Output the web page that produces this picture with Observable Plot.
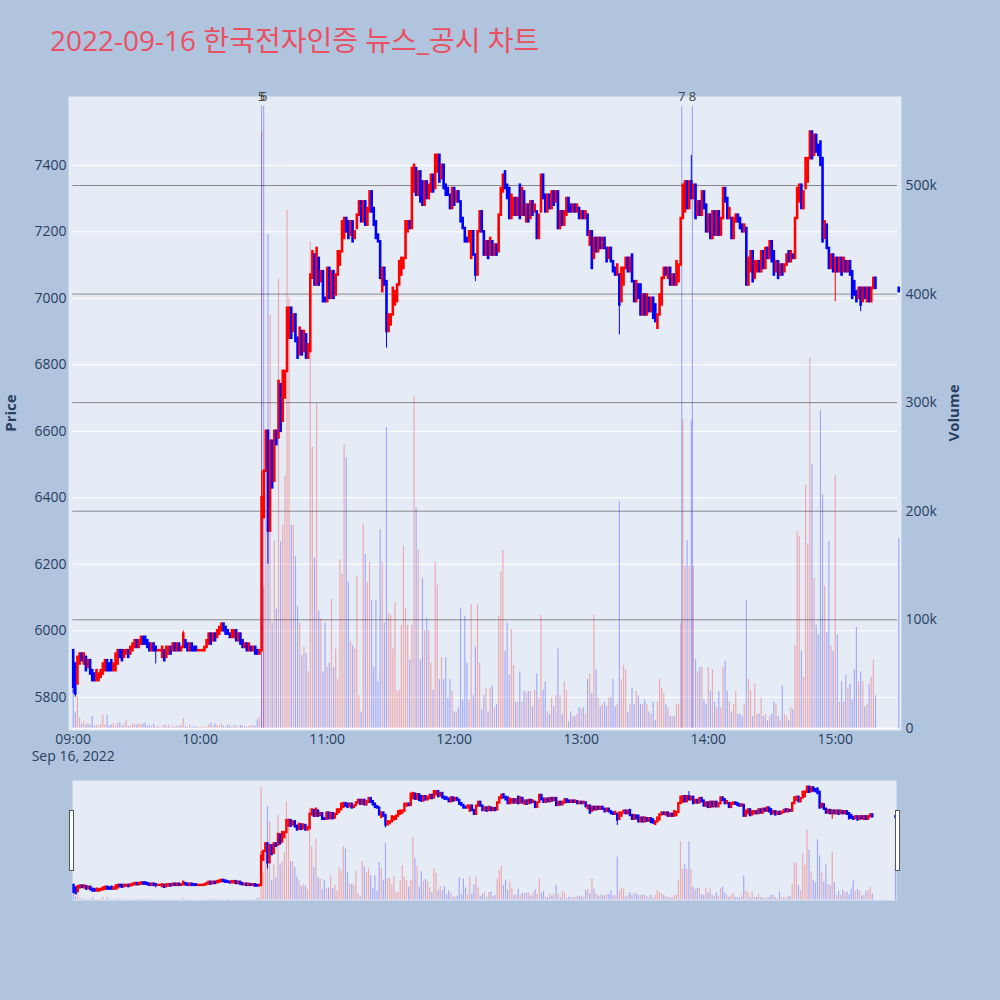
<!DOCTYPE html>
<html><head><meta charset="utf-8">
<script src="https://cdn.jsdelivr.net/npm/d3@7"></script>
<script src="https://cdn.jsdelivr.net/npm/@observablehq/plot@0.6"></script>
<style>
body{margin:0;background:#B0C4DE;}
#root{position:relative;width:1000px;height:1000px;background:#B0C4DE;overflow:hidden;font-family:'Open Sans','Noto Sans CJK KR',sans-serif;}
.layer{position:absolute;left:0;}
#title{position:absolute;left:50px;top:26px;font-size:28px;line-height:28px;color:rgb(234,80,98);white-space:nowrap;}
.axtitle{position:absolute;font-size:15px;font-weight:bold;color:#2a3f5f;transform:translate(-50%,-50%) rotate(-90deg);white-space:nowrap;}
.handle{position:absolute;width:3px;height:59px;background:#fff;border:1px solid #555;}
</style></head><body><div id="root">
<div id="title">2022-09-16 한국전자인증 뉴스_공시 차트</div>
<div class="axtitle" style="left:10px;top:413px;">Price</div>
<div class="axtitle" style="left:953px;top:413px;">Volume</div>
</div>
<script>
// ---------------- data ----------------
const chartDate = [2022, 8, 16];
const sessionStart = "09:00";
// 1-minute opens, 09:00 .. 15:19
const opens = [
5940,5900,5840,5900,5930,5900,5920,5890,5910,5880,
5870,5850,5850,5860,5870,5880,5910,5900,5910,5880,
5880,5900,5940,5940,5920,5930,5940,5930,5940,5950,
5970,5950,5960,5980,5980,5970,5960,5940,5960,5950,
5940,5940,5920,5940,5920,5930,5950,5940,5960,5940,
5960,5940,5950,5970,5960,5940,5960,5950,5950,5940,
5940,5940,5940,5950,5960,5990,5970,5990,5980,5990,
6000,6020,6010,6000,5990,5980,5980,6000,5970,5990,
5970,5950,5960,5940,5950,5940,5950,5940,5930,5940,
6340,6480,6600,6300,6570,6450,6600,6580,6740,6630,
6700,6780,6880,6970,6900,6950,6880,6830,6900,6840,
6890,6820,6840,7060,7130,7040,7120,7050,7080,7000,
6990,7090,7000,7080,7010,7070,7100,7140,7180,7240,
7230,7190,7230,7180,7210,7250,7290,7230,7290,7220,
7260,7320,7270,7230,7190,7170,7020,7090,7050,6900,
6920,6950,6980,6990,7040,7070,7090,7120,7200,7230,
7210,7320,7390,7310,7380,7350,7280,7350,7300,7320,
7370,7330,7380,7430,7360,7400,7340,7330,7310,7270,
7330,7290,7320,7290,7240,7210,7180,7170,7120,7200,
7130,7070,7200,7260,7200,7130,7170,7130,7170,7130,
7160,7140,7250,7320,7380,7340,7330,7240,7250,7300,
7250,7340,7250,7320,7230,7280,7240,7290,7260,7260,
7180,7260,7370,7310,7260,7310,7270,7320,7290,7320,
7210,7260,7220,7250,7300,7280,7260,7280,7260,7270,
7240,7260,7240,7250,7160,7200,7120,7180,7140,7180,
7150,7180,7150,7120,7150,7110,7090,7070,7070,6990,
7040,7090,7120,7080,7130,7050,6990,7040,7040,6950,
7010,6950,7000,6960,7000,6980,6910,6950,6980,7060,
7090,7060,7090,7040,7070,7040,7050,7100,7240,7260,
7350,7270,7350,7300,7340,7250,7290,7250,7320,7280,
7200,7250,7180,7260,7190,7260,7190,7240,7330,7300,
7240,7240,7180,7230,7250,7240,7220,7200,7210,7040,
7080,7140,7060,7080,7110,7080,7140,7090,7150,7120,
7170,7140,7080,7110,7070,7100,7080,7100,7140,7110,
7130,7120,7240,7290,7340,7270,7330,7350,7420,7500,
7430,7490,7460,7470,7420,7180,7220,7150,7090,7130,
7080,7120,7080,7120,7080,7110,7080,7110,7080,7050,
7020,7000,7030,6990,7030,6990,7030,6990,7030,7060
];
// 1-minute closes, 09:00 .. 15:19
const closes = [
5830,5810,5920,5930,5910,5930,5880,5910,5870,5850,
5850,5880,5870,5880,5900,5910,5880,5880,5880,5900,
5930,5940,5920,5910,5940,5940,5920,5950,5960,5970,
5950,5970,5980,5960,5960,5950,5940,5960,5940,5940,
5940,5940,5950,5910,5950,5950,5930,5960,5940,5960,
5940,5950,5990,5950,5940,5960,5940,5940,5940,5940,
5940,5940,5950,5970,5990,5960,5990,5970,6000,6010,
6020,6000,5990,5990,5980,6000,6000,5970,5990,5960,
5950,5960,5940,5960,5940,5950,5930,5930,5940,6400,
6480,6600,6300,6570,6430,6600,6560,6750,6600,6780,
6780,6970,6970,6880,6950,6870,6820,6910,6830,6900,
6820,6860,7070,7140,7040,7150,7040,7080,6990,6990,
7090,7000,7080,7000,7070,7140,7140,7230,7240,7200,
7180,7230,7170,7200,7250,7290,7230,7290,7220,7270,
7320,7260,7220,7180,7170,7060,7090,7040,6900,6950,
6950,7030,7020,7040,7110,7120,7120,7230,7230,7210,
7390,7400,7310,7380,7290,7280,7350,7300,7340,7370,
7320,7430,7430,7350,7400,7330,7310,7310,7270,7330,
7280,7320,7290,7230,7210,7170,7170,7200,7200,7130,
7070,7200,7260,7200,7130,7170,7120,7180,7130,7160,
7130,7250,7330,7370,7330,7300,7240,7310,7300,7250,
7300,7240,7330,7250,7280,7230,7290,7250,7280,7180,
7250,7370,7300,7260,7310,7270,7320,7280,7320,7210,
7260,7220,7260,7300,7260,7260,7280,7260,7280,7240,
7260,7240,7260,7190,7200,7090,7180,7140,7180,7150,
7180,7150,7110,7150,7110,7080,7070,7100,6980,7090,
7090,7120,7080,7120,7050,6990,7050,7000,6950,7010,
6950,7010,6960,7000,6940,6930,6950,7010,7060,7090,
7070,7090,7040,7070,7040,7110,7100,7240,7340,7350,
7270,7350,7300,7340,7240,7290,7250,7320,7270,7200,
7250,7180,7260,7190,7260,7190,7240,7330,7290,7240,
7270,7180,7240,7250,7230,7210,7200,7220,7040,7120,
7140,7050,7110,7110,7080,7140,7090,7150,7120,7170,
7110,7070,7110,7060,7100,7070,7100,7130,7110,7140,
7120,7240,7330,7340,7270,7320,7420,7420,7500,7420,
7490,7440,7430,7400,7170,7230,7150,7090,7130,7080,
7120,7080,7120,7070,7120,7080,7110,7070,7000,7010,
6990,7030,6980,7030,7000,7030,6990,7030,7060,7030
];
// 1-minute volumes in thousands, 09:00 .. 15:19
const volumesK = [
35,15,29,10,4,6,3,5,3,11,
2,3,2,4,12,3,12,2,3,4,
2,5,5,2,3,7,2,2,4,4,
3,4,3,4,5,2,3,2,4,1,
2,1,1,3,2,3,1,2,1,2,
2,3,9,2,1,3,1,2,1,1,
1,1,1,1,3,5,2,4,3,2,
4,2,1,3,2,1,3,2,1,3,
2,2,1,2,2,3,2,8,10,549,
130,250,455,381,97,172,110,414,172,187,
233,477,397,187,187,158,112,97,67,75,
69,52,448,259,157,299,108,101,52,97,
56,60,119,56,73,45,155,142,261,249,
134,80,76,73,140,30,15,188,160,134,
153,118,56,118,43,183,153,97,277,106,
104,73,116,34,35,95,168,110,95,63,
95,306,203,164,63,138,90,101,90,60,
35,153,132,45,65,45,65,28,45,34,
15,15,19,110,26,103,60,26,114,30,
75,114,60,17,30,37,15,37,39,19,
22,103,144,164,71,97,49,91,58,24,
24,52,24,34,32,34,34,20,35,50,
28,104,35,43,15,13,28,20,30,73,
30,13,43,35,6,15,11,11,13,19,
17,19,13,45,50,32,104,54,28,20,
22,24,20,28,28,45,20,22,209,45,
58,54,15,22,37,22,34,30,22,22,
26,22,15,13,24,7,24,45,37,32,
22,19,11,11,11,22,22,97,284,149,
173,149,284,149,63,52,56,56,26,22,
56,34,54,24,19,34,19,56,62,34,
24,15,22,34,13,13,11,22,118,45,
35,11,41,13,13,28,11,13,7,11,
13,24,22,11,7,39,13,11,7,19,
17,76,181,177,71,47,224,170,341,243,
138,95,86,293,215,131,88,172,76,71,
233,86,24,43,24,49,37,41,26,54,
93,43,52,43,20,22,41,47,63,30
];
// wick extremes beyond the bodies (minute index from 09:00)
const wickMinute = [0, 1, 39, 52, 89, 92, 148, 190, 258, 292, 360, 372];
const wickLow    = [5810, 5800, 5900, null, null, 6200, 6850, 7050, 6890, null, 6990, 6960];
const wickHigh   = [null, null, null, 6000, 6480, null, null, null, null, 7430, null, null];
// closing auction
const auctionTime = "15:30";
const auctionOpen = 7030;
const auctionPrice = 7020;
const auctionVolumeK = 175;
// news / disclosure markers
const newsLabels = ["5", "6", "7", "8"];
const newsTimes = ["10:29", "10:30", "13:47:30", "13:52:30"];
const newsLineTopK = 573;
// axes
const priceTicks = [5800, 6000, 6200, 6400, 6600, 6800, 7000, 7200, 7400];
const volumeTicksK = [0, 100, 200, 300, 400, 500];
const hourTicks = ["09:00", "10:00", "11:00", "12:00", "13:00", "14:00", "15:00"];
const dateLabel = "Sep 16, 2022";
const priceDomain = [5700, 7607];
const volumeDomainK = [-2, 582];
const mainTimeDomain = ["08:57:47", "15:31:18"];
const sliderTimeDomain = ["08:59:30", "15:30:30"];
const gridTimeSpan = ["08:59:50", "15:29:30"];

// ---------------- build ----------------
const T = s => { const [h, m, sec = 0] = s.split(":").map(Number); return new Date(Date.UTC(chartDate[0], chartDate[1], chartDate[2], h, m, sec)); };
const t0 = T(sessionStart);
const candles = closes.map((c, i) => {
  const open = opens[i];
  return {time: new Date(+t0 + i * 60000), open, close: c, low: Math.min(open, c), high: Math.max(open, c), volume: volumesK[i]};
});
wickMinute.forEach((m, k) => {
  if (wickLow[k] != null) candles[m].low = Math.min(candles[m].low, wickLow[k]);
  if (wickHigh[k] != null) candles[m].high = Math.max(candles[m].high, wickHigh[k]);
});
candles.push({time: T(auctionTime), open: auctionOpen, close: auctionPrice,
  low: Math.min(auctionOpen, auctionPrice), high: Math.max(auctionOpen, auctionPrice), volume: auctionVolumeK});
candles.forEach(d => d.col = d.close >= d.open ? "#ff0000" : "#0000ff");

const fmt = d3.utcFormat("%H:%M");
const font = "'Open Sans','Noto Sans CJK KR',sans-serif";
const style = {background: "transparent", fontFamily: font, fontSize: "14px", color: "#2a3f5f", overflow: "visible"};
const mainDims = {width: 1000, height: 775, marginLeft: 68, marginRight: 99, marginTop: 96, marginBottom: 45};
const sliderDims = {width: 1000, height: 140, marginLeft: 72, marginRight: 104, marginTop: 10, marginBottom: 10};
const xMain = {type: "utc", domain: mainTimeDomain.map(T)};
const xSlider = {type: "utc", domain: sliderTimeDomain.map(T), axis: null};
const gx1 = () => T(gridTimeSpan[0]), gx2 = () => T(gridTimeSpan[1]);

const root = document.getElementById("root");
function place(svg, top) { svg.classList.add("layer"); svg.style.top = top + "px"; root.appendChild(svg); }

// Layer A: background, price grid, axes
place(Plot.plot({
  ...mainDims, style, x: xMain, y: {domain: priceDomain},
  marks: [
    Plot.frame({fill: "#E5ECF6", stroke: "none"}),
    Plot.ruleY(priceTicks, {y: d => d, x1: gx1, x2: gx2, stroke: "#ffffff", strokeWidth: 1}),
    Plot.axisY({ticks: priceTicks, tickSize: 0, tickPadding: 2, label: null, tickFormat: d => String(d)}),
    Plot.axisX({ticks: hourTicks.map(T), tickSize: 0, tickPadding: 4, label: null, tickFormat: fmt}),
    Plot.text([dateLabel], {x: () => t0, text: d => d, frameAnchor: "bottom", lineAnchor: "top", dy: 21, fill: "#2a3f5f"})
  ]
}), 0);

// Layer B: volume grid, bars, news lines, right axis
place(Plot.plot({
  ...mainDims, style, x: {...xMain, axis: null}, y: {domain: volumeDomainK}, color: {type: "identity"},
  marks: [
    Plot.ruleY([0], {y: d => d, x1: gx1, x2: gx2, stroke: "#ffffff", strokeWidth: 1.5}),
    Plot.ruleY(volumeTicksK.filter(v => v > 0), {y: d => d, x1: gx1, x2: gx2, stroke: "#888888", strokeWidth: 1}),
    Plot.ruleX(candles, {x: "time", y1: 0, y2: "volume", stroke: "col", strokeOpacity: 0.28, strokeWidth: 1.2}),
    Plot.ruleX(newsTimes.map(T), {x: d => d, y1: 0, y2: newsLineTopK, stroke: "#0000ff", strokeOpacity: 0.35, strokeWidth: 1}),
    Plot.axisY({anchor: "right", ticks: volumeTicksK, tickSize: 0, tickPadding: 4, label: null,
      tickFormat: d => d === 0 ? "0" : d + "k"})
  ]
}), 0);

// Layer C: candlesticks and news labels
place(Plot.plot({
  ...mainDims, style, x: {...xMain, axis: null}, y: {domain: priceDomain, axis: null}, color: {type: "identity"},
  marks: [
    Plot.ruleX(candles, {x: "time", y1: "low", y2: "high", stroke: "col", strokeWidth: 1}),
    Plot.ruleX(candles, {x: "time", y1: "open", y2: "close", stroke: "col", strokeWidth: 2.6, strokeLinecap: "square"}),
    Plot.text(newsLabels, {x: (d, i) => T(newsTimes[i]), text: d => d, frameAnchor: "top", lineAnchor: "middle", fill: "#444", fontSize: 13})
  ]
}), 0);

// Range slider: volume + background
place(Plot.plot({
  ...sliderDims, style, x: xSlider, y: {domain: volumeDomainK, axis: null}, color: {type: "identity"},
  marks: [
    Plot.frame({fill: "#E5ECF6", stroke: "none"}),
    Plot.ruleX(candles, {x: "time", y1: 0, y2: "volume", stroke: "col", strokeOpacity: 0.28, strokeWidth: 1.2})
  ]
}), 770);
// Range slider: candles
place(Plot.plot({
  ...sliderDims, style, x: xSlider, y: {domain: priceDomain, axis: null}, color: {type: "identity"},
  marks: [
    Plot.ruleX(candles, {x: "time", y1: "low", y2: "high", stroke: "col", strokeWidth: 1}),
    Plot.ruleX(candles, {x: "time", y1: "open", y2: "close", stroke: "col", strokeWidth: 2.4, strokeLinecap: "square"})
  ]
}), 770);

// slider handles (UI chrome)
for (const left of [69, 895]) {
  const h = document.createElement("div");
  h.className = "handle"; h.style.left = left + "px"; h.style.top = "810px";
  root.appendChild(h);
}
</script>
</body></html>
